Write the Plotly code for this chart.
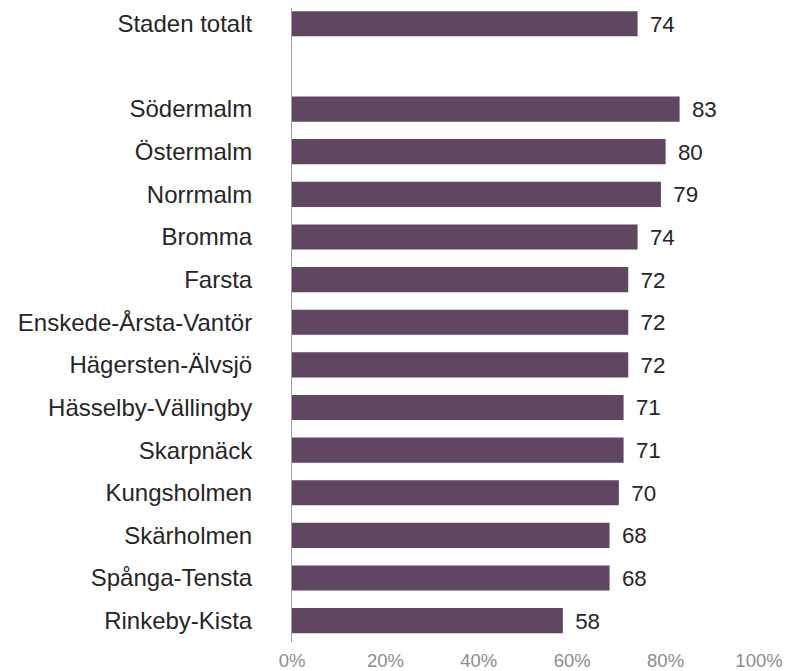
import plotly.graph_objects as go

categories = ["Staden totalt", " ", "Södermalm", "Östermalm", "Norrmalm", "Bromma", "Farsta",
              "Enskede-Årsta-Vantör", "Hägersten-Älvsjö", "Hässelby-Vällingby", "Skarpnäck",
              "Kungsholmen", "Skärholmen", "Spånga-Tensta", "Rinkeby-Kista"]
values = [74, None, 83, 80, 79, 74, 72, 72, 72, 71, 71, 70, 68, 68, 58]
tick_vals = [0, 20, 40, 60, 80, 100]
tick_text = ["0%", "20%", "40%", "60%", "80%", "100%"]

labels = ["" if v is None else "\u2005\u2006" + str(v) for v in values]

FONT = "Liberation Sans, Arial, sans-serif"

fig = go.Figure(go.Bar(
    x=values, y=categories, orientation="h",
    marker=dict(color="#604660", line=dict(width=0)),
    text=labels, textposition="outside", cliponaxis=False,
    textfont=dict(family=FONT, size=24, color="#262626"),
))

fig.update_layout(
    width=787, height=663,
    margin=dict(l=284, r=36, t=0, b=29),
    paper_bgcolor="white", plot_bgcolor="white",
    showlegend=False, bargap=0.41,
    xaxis=dict(range=[0, 100], tickvals=tick_vals, ticktext=tick_text,
               showgrid=False, zeroline=False, showline=False, automargin=False,
               tickfont=dict(family=FONT, size=18.5, color="#8c8c8c"),
               ticks="", ticklen=0, ticklabelstandoff=5),
    yaxis=dict(type="category", categoryorder="array", categoryarray=categories,
               range=[14.5, -0.37], showgrid=False, zeroline=False, automargin=False,
               showline=True, linecolor="#a0a0a0", linewidth=1,
               ticks="", ticklabelstandoff=34,
               tickfont=dict(family=FONT, size=24, color="#262626")),
)

fig.write_html("out.html")
